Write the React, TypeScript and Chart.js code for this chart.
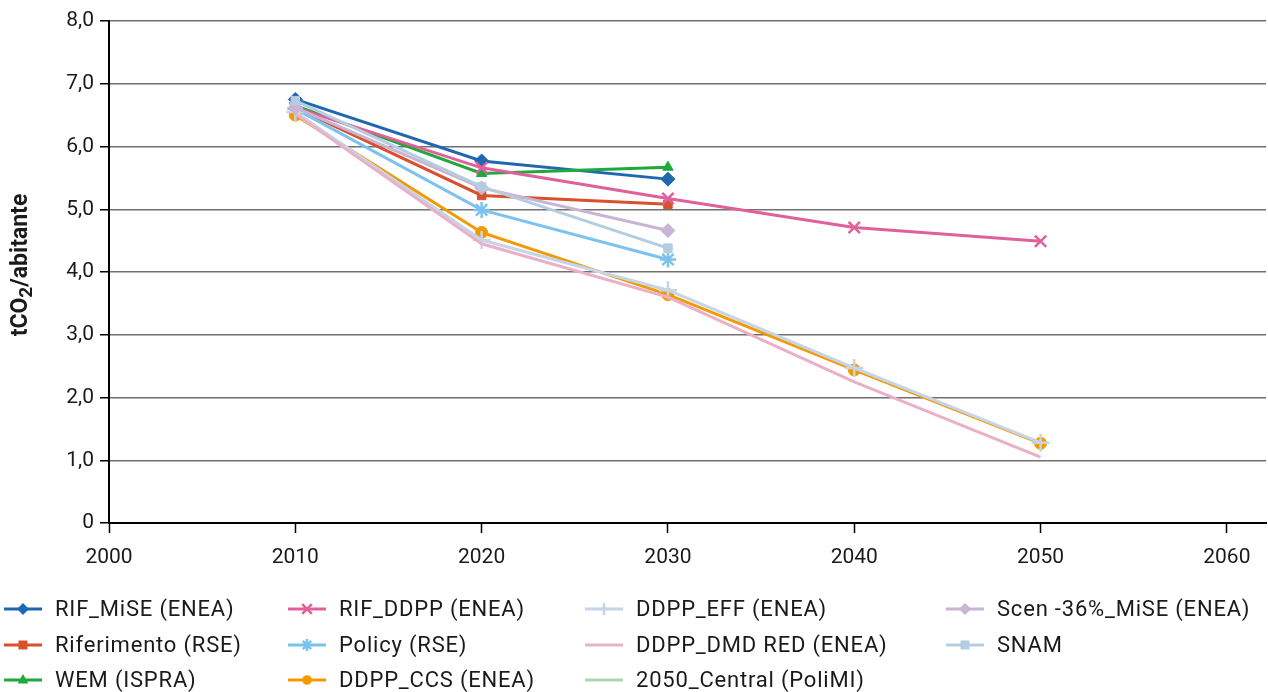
import React, { useEffect, useRef } from "react";
import { Chart, registerables } from "chart.js";

Chart.register(...registerables);

const decades = [2010, 2020, 2030, 2040, 2050];
const nearYears = [2010, 2020, 2030];

const rifMiseValues = [6.75, 5.77, 5.48];
const riferimentoValues = [6.62, 5.22, 5.08];
const wemValues = [6.65, 5.57, 5.67];
const rifDdppValues = [6.62, 5.66, 5.17, 4.71, 4.49];
const policyValues = [6.6, 4.99, 4.2];
const ddppCcsValues = [6.5, 4.63, 3.64, 2.44, 1.27];
const ddppEffValues = [6.55, 4.51, 3.71, 2.47, 1.28];
const ddppDmdValues = [6.52, 4.45, 3.6, 2.25, 1.05];
const centralYears = [2050];
const centralValues = [1.29];
const scen36Values = [6.62, 5.34, 4.66];
const snamValues = [6.73, 5.36, 4.38];

const xTickValues = [2000, 2010, 2020, 2030, 2040, 2050, 2060];
const yTickValues = [0, 1, 2, 3, 4, 5, 6, 7, 8];

const FONT = "Roboto, 'DejaVu Sans', sans-serif";

type Series = {
  label: string;
  xs: number[];
  ys: number[];
  color: string;
  pointStyle: string | false;
  radius: number;
  col: number;
  row: number;
};

const series: Series[] = [
  { label: "RIF_MiSE (ENEA)", xs: nearYears, ys: rifMiseValues, color: "#1f67b1", pointStyle: "rectRot", radius: 7, col: 0, row: 0 },
  { label: "Riferimento (RSE)", xs: nearYears, ys: riferimentoValues, color: "#d8502c", pointStyle: "rect", radius: 6, col: 0, row: 1 },
  { label: "WEM (ISPRA)", xs: nearYears, ys: wemValues, color: "#1fa83c", pointStyle: "triangle", radius: 6, col: 0, row: 2 },
  { label: "RIF_DDPP (ENEA)", xs: decades, ys: rifDdppValues, color: "#e0609b", pointStyle: "crossRot", radius: 8, col: 1, row: 0 },
  { label: "Policy (RSE)", xs: nearYears, ys: policyValues, color: "#7cc2ee", pointStyle: "star", radius: 8, col: 1, row: 1 },
  { label: "DDPP_CCS (ENEA)", xs: decades, ys: ddppCcsValues, color: "#f39a00", pointStyle: "circle", radius: 6, col: 1, row: 2 },
  { label: "DDPP_EFF (ENEA)", xs: decades, ys: ddppEffValues, color: "#c6d4e8", pointStyle: "cross", radius: 9, col: 2, row: 0 },
  { label: "DDPP_DMD RED (ENEA)", xs: decades, ys: ddppDmdValues, color: "#eab0c8", pointStyle: false, radius: 0, col: 2, row: 1 },
  { label: "2050_Central (PoliMI)", xs: centralYears, ys: centralValues, color: "#a9d9b1", pointStyle: false, radius: 0, col: 2, row: 2 },
  { label: "Scen -36%_MiSE (ENEA)", xs: nearYears, ys: scen36Values, color: "#c9b4d4", pointStyle: "rectRot", radius: 7, col: 3, row: 0 },
  { label: "SNAM", xs: nearYears, ys: snamValues, color: "#b5cde1", pointStyle: "rect", radius: 6, col: 3, row: 1 },
];

const legendColX = [4, 288, 585, 946];
const legendRowY = [609, 645, 680];

function drawMarker(ctx: CanvasRenderingContext2D, style: string, x: number, y: number, r: number, color: string) {
  ctx.save();
  ctx.fillStyle = color;
  ctx.strokeStyle = color;
  ctx.lineWidth = 2.5;
  ctx.beginPath();
  if (style === "rectRot") {
    ctx.moveTo(x, y - r); ctx.lineTo(x + r, y); ctx.lineTo(x, y + r); ctx.lineTo(x - r, y); ctx.closePath(); ctx.fill();
  } else if (style === "rect") {
    ctx.rect(x - r * 0.75, y - r * 0.75, r * 1.5, r * 1.5); ctx.fill();
  } else if (style === "triangle") {
    ctx.moveTo(x, y - r); ctx.lineTo(x + r * 0.9, y + r * 0.6); ctx.lineTo(x - r * 0.9, y + r * 0.6); ctx.closePath(); ctx.fill();
  } else if (style === "circle") {
    ctx.arc(x, y, r * 0.8, 0, Math.PI * 2); ctx.fill();
  } else if (style === "crossRot") {
    ctx.moveTo(x - r * 0.8, y - r * 0.8); ctx.lineTo(x + r * 0.8, y + r * 0.8);
    ctx.moveTo(x + r * 0.8, y - r * 0.8); ctx.lineTo(x - r * 0.8, y + r * 0.8); ctx.stroke();
  } else if (style === "star") {
    ctx.moveTo(x - r * 0.7, y - r * 0.7); ctx.lineTo(x + r * 0.7, y + r * 0.7);
    ctx.moveTo(x + r * 0.7, y - r * 0.7); ctx.lineTo(x - r * 0.7, y + r * 0.7);
    ctx.moveTo(x, y - r); ctx.lineTo(x, y + r); ctx.stroke();
  } else if (style === "cross") {
    ctx.moveTo(x - r, y); ctx.lineTo(x + r, y); ctx.moveTo(x, y - r); ctx.lineTo(x, y + r); ctx.stroke();
  }
  ctx.restore();
}

const customDraw = {
  id: "customDraw",
  afterDraw(chart: any) {
    const ctx: any = chart.ctx;
    // Legend in a 4-column grid
    ctx.save();
    ctx.font = `22px ${FONT}`;
    ctx.letterSpacing = "0.8px";
    ctx.textBaseline = "middle";
    ctx.textAlign = "left";
    series.forEach((s) => {
      const x = legendColX[s.col];
      const y = legendRowY[s.row];
      ctx.strokeStyle = s.color;
      ctx.lineWidth = 3;
      ctx.beginPath();
      ctx.moveTo(x, y);
      ctx.lineTo(x + 38, y);
      ctx.stroke();
      if (s.pointStyle) drawMarker(ctx, s.pointStyle as string, x + 19, y, 6, s.color);
      ctx.fillStyle = "#1a1a1a";
      ctx.fillText(s.label, x + 51, y + 1);
    });
    ctx.restore();

    // Y axis title with subscript
    ctx.save();
    ctx.translate(21, 265);
    ctx.rotate(-Math.PI / 2);
    ctx.fillStyle = "#1a1a1a";
    ctx.textBaseline = "middle";
    ctx.textAlign = "left";
    const big = `bold 23px ${FONT}`;
    const small = `bold 19px ${FONT}`;
    const parts: [string, string, number][] = [["tCO", big, 0], ["2", small, 6], ["/abitante", big, 0]];
    let total = 0;
    parts.forEach(([t, f]) => { ctx.font = f; total += ctx.measureText(t).width; });
    let cx = -total / 2;
    parts.forEach(([t, f, dy]) => {
      ctx.font = f;
      ctx.fillText(t, cx, dy);
      cx += ctx.measureText(t).width;
    });
    ctx.restore();
  },
};

export default function App() {
  const canvasRef = useRef<HTMLCanvasElement | null>(null);

  useEffect(() => {
    document.body.style.margin = "0";
    const canvas = canvasRef.current;
    if (!canvas) return;
    const n = series.length;
    const chart = new Chart(canvas, {
      type: "line",
      data: {
        datasets: series.map((s, i) => ({
          label: s.label,
          data: s.xs.map((x, j) => ({ x, y: s.ys[j] })),
          borderColor: s.color,
          backgroundColor: s.color,
          borderWidth: 3,
          pointStyle: s.pointStyle as any,
          pointRadius: s.radius,
          pointBorderWidth: s.pointStyle === "cross" || s.pointStyle === "crossRot" || s.pointStyle === "star" ? 2.5 : 1,
          pointBorderColor: s.color,
          pointBackgroundColor: s.color,
          tension: 0,
          order: n - i,
        })),
      },
      options: {
        animation: false,
        responsive: false,
        maintainAspectRatio: false,
        layout: { autoPadding: false, padding: { top: 21, right: 2, bottom: 129, left: 0 } },
        plugins: {
          legend: { display: false },
          tooltip: { enabled: false },
          title: { display: false },
        },
        scales: {
          x: {
            type: "linear",
            min: 2000,
            max: 2062.1,
            afterBuildTicks: (scale: any) => {
              scale.ticks = xTickValues.map((v) => ({ value: v }));
            },
            afterFit: (scale: any) => {
              scale.height = 40;
              scale.paddingRight = 0;
              scale.paddingLeft = 0;
            },
            ticks: {
              callback: (v: any) => String(v),
              font: { family: FONT, size: 21 },
              color: "#1a1a1a",
              padding: 12,
              maxRotation: 0,
              autoSkip: false,
            },
            grid: { drawOnChartArea: false, drawTicks: true, tickLength: 10, tickColor: "#000", tickWidth: 1.5 },
            border: { color: "#000", width: 2 },
          },
          y: {
            type: "linear",
            min: 0,
            max: 8,
            afterBuildTicks: (scale: any) => {
              scale.ticks = yTickValues.map((v) => ({ value: v }));
            },
            afterFit: (scale: any) => {
              scale.width = 109;
              scale.paddingTop = 0;
              scale.paddingBottom = 0;
            },
            ticks: {
              callback: (v: any) => (v === 0 ? "0" : Number(v).toFixed(1).replace(".", ",")),
              font: { family: FONT, size: 21 },
              color: "#1a1a1a",
              padding: 6,
            },
            grid: { color: "#707070", lineWidth: 1.5, drawTicks: true, tickLength: 9, tickColor: "#000" },
            border: { color: "#000", width: 2 },
          },
        },
      },
      plugins: [customDraw],
    });
    return () => chart.destroy();
  }, []);

  return (
    <div style={{ width: 1268, height: 692 }}>
      <canvas ref={canvasRef} width={1268} height={692} style={{ display: "block" }} />
    </div>
  );
}
